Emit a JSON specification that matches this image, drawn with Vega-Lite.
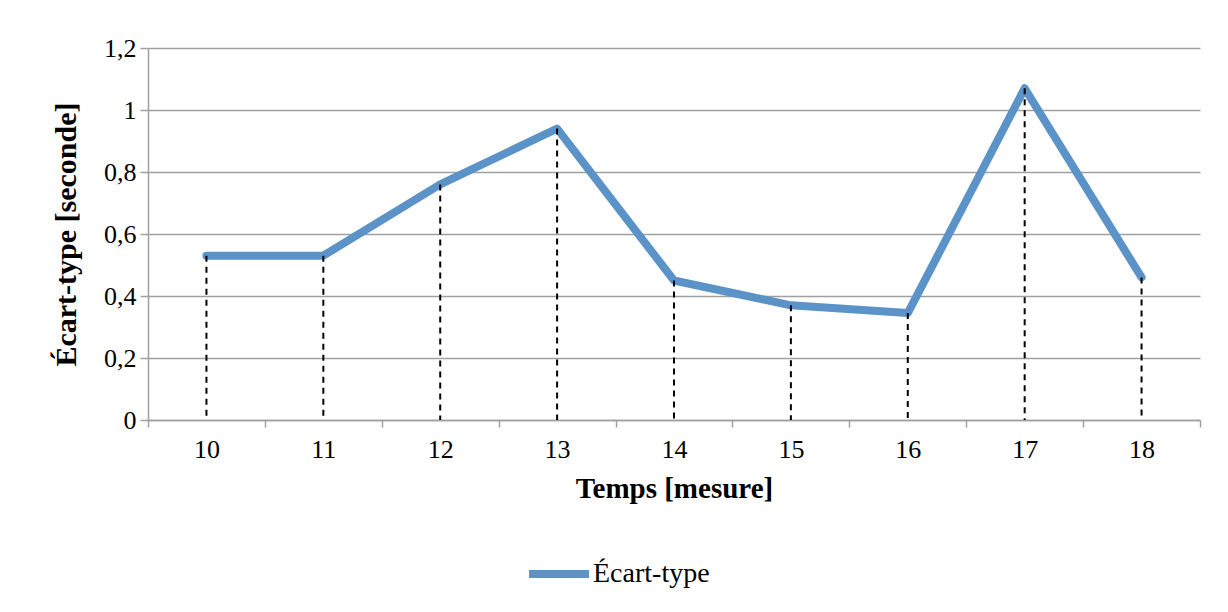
{
  "$schema": "https://vega.github.io/schema/vega-lite/v6.json",
  "autosize": "none",
  "width": 1052,
  "height": 372,
  "padding": {"left": 148, "top": 48, "right": 28, "bottom": 192},
  "background": "white",
  "config": {
    "font": "Liberation Serif",
    "view": {"stroke": null},
    "axis": {"labelFont": "Liberation Serif", "titleFont": "Liberation Serif", "labelColor": "#000", "titleColor": "#000"}
  },
  "data": {
    "values": [
      {"temps": "10", "ecart": 0.53, "serie": "Écart-type"},
      {"temps": "11", "ecart": 0.53, "serie": "Écart-type"},
      {"temps": "12", "ecart": 0.76, "serie": "Écart-type"},
      {"temps": "13", "ecart": 0.94, "serie": "Écart-type"},
      {"temps": "14", "ecart": 0.45, "serie": "Écart-type"},
      {"temps": "15", "ecart": 0.37, "serie": "Écart-type"},
      {"temps": "16", "ecart": 0.345, "serie": "Écart-type"},
      {"temps": "17", "ecart": 1.07, "serie": "Écart-type"},
      {"temps": "18", "ecart": 0.46, "serie": "Écart-type"}
    ]
  },
  "encoding": {
    "x": {
      "field": "temps",
      "type": "ordinal",
      "scale": {"type": "band", "paddingInner": 0, "paddingOuter": 0},
      "axis": {
        "title": "Temps [mesure]",
        "labelAngle": 0,
        "tickBand": "extent",
        "domainColor": "#a0a0a0",
        "domainWidth": 1.5,
        "tickColor": "#a0a0a0",
        "tickWidth": 1.5,
        "tickSize": 7,
        "labelPadding": 9,
        "labelFontSize": 26,
        "titleFontSize": 29,
        "titleFontWeight": "bold",
        "titlePadding": 12,
        "grid": false
      }
    }
  },
  "layer": [
    {
      "mark": {"type": "line", "strokeWidth": 8, "strokeCap": "round", "strokeJoin": "round"},
      "encoding": {
        "y": {
          "field": "ecart",
          "type": "quantitative",
          "scale": {"domain": [0, 1.2], "nice": false},
          "axis": {
            "title": "Écart-type [seconde]",
            "values": [0, 0.2, 0.4, 0.6, 0.8, 1, 1.2],
            "labelExpr": "replace(format(datum.value, '~r'), '.', ',')",
            "grid": true,
            "gridColor": "#a0a0a0",
            "gridWidth": 1.5,
            "domainColor": "#a0a0a0",
            "domainWidth": 1.5,
            "tickColor": "#a0a0a0",
            "tickWidth": 1.5,
            "tickSize": 8,
            "labelPadding": 4,
            "labelFontSize": 26,
            "titleFontSize": 30,
            "titleFontWeight": "bold",
            "titlePadding": 22
          }
        },
        "color": {
          "field": "serie",
          "type": "nominal",
          "scale": {"range": ["#5b93c9"]},
          "legend": {
            "title": null,
            "orient": "none",
            "legendX": 377,
            "legendY": 492,
            "symbolType": "stroke",
            "symbolStrokeWidth": 8,
            "symbolSize": 3600,
            "labelFontSize": 28,
            "labelFont": "Liberation Serif",
            "labelColor": "#000",
            "labelOffset": 0
          }
        }
      }
    },
    {
      "mark": {"type": "rule", "color": "#000", "strokeWidth": 2, "strokeDash": [6, 5]},
      "encoding": {
        "y": {"field": "ecart", "type": "quantitative"},
        "y2": {"datum": 0}
      }
    }
  ]
}
